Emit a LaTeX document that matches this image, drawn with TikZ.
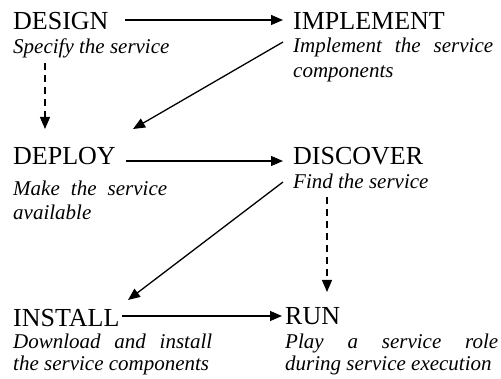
\documentclass[tikz,border=0pt]{standalone}
\usepackage{fontspec}
\setmainfont{Liberation Serif}
\usetikzlibrary{arrows.meta}
\begin{document}
\begin{tikzpicture}[x=1pt,y=1pt,
  head/.style={anchor=base west, inner sep=0pt, font=\fontsize{26}{30}\selectfont},
  desc/.style={anchor=base west, inner sep=0pt, font=\fontsize{21}{25}\selectfont\itshape},
  arr/.style={line width=1.3pt, -{Triangle[length=12pt,width=10pt]}},
  darr/.style={arr, dash pattern=on 7pt off 5pt}]
\useasboundingbox (0,0) rectangle (501,-379);
\node[head] (design) at (13,-30) {DESIGN};
\node[desc] (designd) at (13,-54) {Specify the service};
\node[head] (implement) at (293,-30) {IMPLEMENT};
\node[desc] (impl1) at (293,-53) {\hbox to 200pt{Implement\hfill the\hfill service}};
\node[desc] (impl2) at (293,-78) {components};
\node[head] (deploy) at (13,-165) {DEPLOY};
\node[desc] (deploy1) at (13,-196) {\hbox to 154pt{Make\hfill the\hfill service}};
\node[desc] (deploy2) at (13,-220) {available};
\node[head] (discover) at (293,-165) {DISCOVER};
\node[desc] (discoverd) at (293,-189) {Find the service};
\node[head] (install) at (13,-327) {INSTALL};
\node[desc] (install1) at (13,-349) {\hbox to 199pt{Download\hfill and\hfill install}};
\node[desc] (install2) at (13,-371) {the service components};
\node[head] (run) at (285,-325) {RUN};
\node[desc] (run1) at (285,-349) {\hbox to 213pt{Play\hfill a\hfill service\hfill role}};
\node[desc] (run2) at (285,-371) {during service execution};
\draw[arr] ([shift={(112,10)}]design.base west) -- ([shift={(-10,10)}]implement.base west);
\draw[arr] ([shift={(-10,-12)}]implement.base west) -- ([shift={(120,36)}]deploy.base west);
\draw[darr] ([shift={(32,-33)}]design.base west) -- ([shift={(32,36)}]deploy.base west);
\draw[arr] ([shift={(113,4)}]deploy.base west) -- ([shift={(-10,4)}]discover.base west);
\draw[arr] ([shift={(-10,-17)}]discover.base west) -- ([shift={(115,27)}]install.base west);
\draw[darr] ([shift={(34,-32)}]discover.base west) -- ([shift={(42,33)}]run.base west);
\draw[arr] ([shift={(109,11)}]install.base west) -- ([shift={(-3,9)}]run.base west);
\end{tikzpicture}
\end{document}
